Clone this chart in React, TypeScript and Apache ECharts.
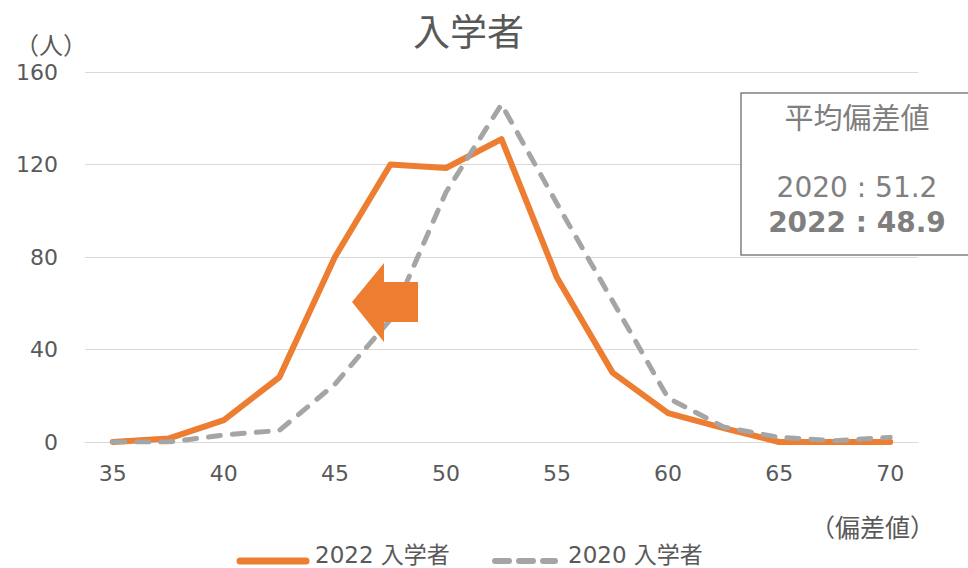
import React, { useEffect, useRef } from "react";
import * as echarts from "echarts";

const categories = ["35", "37.5", "40", "42.5", "45", "47.5", "50", "52.5", "55", "57.5", "60", "62.5", "65", "67.5", "70"];
const s2022 = [0, 1.5, 9.5, 28, 80, 120, 118.5, 131, 71, 30, 12.5, 6, 0, 0, 0];
const s2020 = [0, 0, 3, 5, 25, 53, 108, 146, 103, 61, 19, 6.5, 2, 0.5, 2];
const yTicks = { min: 0, max: 160, interval: 40 };
const seriesNames = ["2022 入学者", "2020 入学者"];
const titleText = "入学者";
const yName = "（人）";
const xName = "（偏差値）";
const boxLines = ["平均偏差値", "2020 : 51.2", "2022 : 48.9"];

const FONT = "'DejaVu Sans', 'Noto Sans CJK JP', sans-serif";
const ORANGE = "#ED7D31";
const GRAY = "#A5A5A5";
const TEXT = "#595959";
const BOXTEXT = "#7F7F7F";

export default function App() {
  const ref = useRef<HTMLDivElement>(null);
  useEffect(() => {
    if (!ref.current) return;
    const chart = echarts.init(ref.current, undefined, { renderer: "svg" });
    const legendY = 561;
    chart.setOption({
      animation: false,
      backgroundColor: "#ffffff",
      textStyle: { fontFamily: FONT, color: TEXT },
      title: {
        text: titleText,
        left: 408,
        top: 10,
        textStyle: { fontFamily: FONT, fontSize: 37, fontWeight: "normal", color: TEXT },
      },
      grid: { left: 85, right: 50, top: 72, bottom: 126 },
      xAxis: {
        type: "category",
        data: categories,
        boundaryGap: true,
        axisLine: { show: true, lineStyle: { color: "#D9D9D9", width: 1 } },
        axisTick: { show: false },
        axisLabel: {
          interval: 1,
          margin: 20,
          fontSize: 22,
          color: TEXT,
          fontFamily: FONT,
        },
        splitLine: { show: false },
      },
      yAxis: {
        type: "value",
        min: yTicks.min,
        max: yTicks.max,
        interval: yTicks.interval,
        axisLine: { show: false },
        axisTick: { show: false },
        axisLabel: { margin: 27, fontSize: 22, color: TEXT, fontFamily: FONT },
        splitLine: { show: true, lineStyle: { color: "#D9D9D9", width: 1 } },
      },
      series: [
        {
          name: seriesNames[0],
          type: "line",
          data: s2022,
          symbol: "none",
          lineStyle: { color: ORANGE, width: 6, cap: "round", join: "round" },
          itemStyle: { color: ORANGE },
          z: 3,
        },
        {
          name: seriesNames[1],
          type: "line",
          data: s2020,
          symbol: "none",
          lineStyle: { color: GRAY, width: 5, type: [12, 12], cap: "round", join: "round" },
          itemStyle: { color: GRAY },
          z: 4,
        },
      ],
      graphic: [
        {
          type: "polygon",
          z: 100,
          shape: {
            points: [
              [352, 302],
              [384, 263],
              [384, 282],
              [418, 282],
              [418, 322],
              [384, 322],
              [384, 342],
            ],
          },
          style: { fill: ORANGE },
        },
        {
          type: "rect",
          z: 100,
          shape: { x: 741, y: 93, width: 240, height: 162 },
          style: { fill: "#ffffff", stroke: "#808080", lineWidth: 1.5 },
        },
        {
          type: "text",
          z: 101,
          x: 857,
          y: 119,
          style: {
            text: boxLines[0],
            fontFamily: FONT,
            fontSize: 29,
            fill: BOXTEXT,
            align: "center",
            verticalAlign: "middle",
          },
        },
        {
          type: "text",
          z: 101,
          x: 857,
          y: 187,
          style: {
            text: boxLines[1],
            fontFamily: FONT,
            fontSize: 28,
            fill: BOXTEXT,
            align: "center",
            verticalAlign: "middle",
          },
        },
        {
          type: "text",
          z: 101,
          x: 857,
          y: 222,
          style: {
            text: boxLines[2],
            fontFamily: FONT,
            fontSize: 28,
            fontWeight: "bold",
            fill: BOXTEXT,
            align: "center",
            verticalAlign: "middle",
          },
        },
        {
          type: "text",
          z: 101,
          x: 15,
          y: 46,
          style: {
            text: yName,
            fontFamily: FONT,
            fontSize: 24,
            fill: TEXT,
            align: "left",
            verticalAlign: "middle",
          },
        },
        {
          type: "text",
          z: 101,
          x: 810,
          y: 528,
          style: {
            text: xName,
            fontFamily: FONT,
            fontSize: 25,
            fill: TEXT,
            align: "left",
            verticalAlign: "middle",
          },
        },
        // legend: 2022
        {
          type: "line",
          z: 101,
          shape: { x1: 240, y1: legendY, x2: 306, y2: legendY },
          style: { stroke: ORANGE, lineWidth: 7, lineCap: "round" },
        },
        {
          type: "text",
          z: 101,
          x: 315,
          y: 555,
          style: {
            text: seriesNames[0],
            fontFamily: FONT,
            fontSize: 23,
            fill: TEXT,
            align: "left",
            verticalAlign: "middle",
          },
        },
        // legend: 2020
        {
          type: "line",
          z: 101,
          shape: { x1: 495, y1: legendY, x2: 509, y2: legendY },
          style: { stroke: GRAY, lineWidth: 6, lineCap: "round" },
        },
        {
          type: "line",
          z: 101,
          shape: { x1: 519, y1: legendY, x2: 533, y2: legendY },
          style: { stroke: GRAY, lineWidth: 6, lineCap: "round" },
        },
        {
          type: "line",
          z: 101,
          shape: { x1: 543, y1: legendY, x2: 555, y2: legendY },
          style: { stroke: GRAY, lineWidth: 6, lineCap: "round" },
        },
        {
          type: "text",
          z: 101,
          x: 568,
          y: 555,
          style: {
            text: seriesNames[1],
            fontFamily: FONT,
            fontSize: 23,
            fill: TEXT,
            align: "left",
            verticalAlign: "middle",
          },
        },
      ],
    });
    return () => chart.dispose();
  }, []);
  return (
    <div
      ref={ref}
      style={{ position: "fixed", left: 0, top: 0, width: 968, height: 568, background: "#fff" }}
    />
  );
}
